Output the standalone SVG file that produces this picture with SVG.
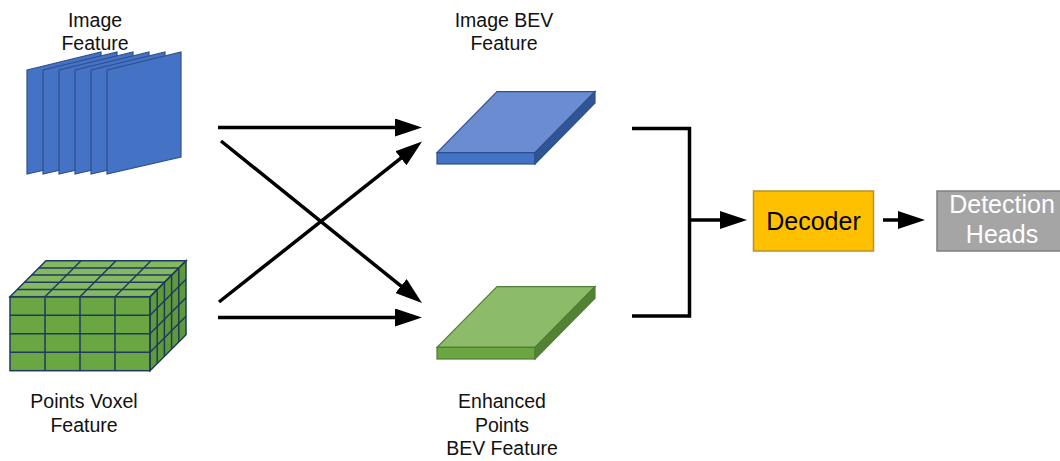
<svg xmlns="http://www.w3.org/2000/svg" width="1060" height="461" viewBox="0 0 1060 461">
<defs>
<style>
.lbl{font-family:"Liberation Sans",Arial,sans-serif;font-size:19.5px;fill:#111;text-anchor:middle}
.big{font-family:"Liberation Sans",Arial,sans-serif;font-size:25px;text-anchor:middle}
.panel{fill:#4472C4;stroke:#2F4F8A;stroke-width:1.2}
.vx{stroke:#1F3A5F;stroke-width:1.5;fill:none}
.conn{stroke:#000;stroke-width:3.5;fill:none}
</style>
<marker id="ah" viewBox="0 0 27 18" refX="17" refY="9" markerWidth="27" markerHeight="18" markerUnits="userSpaceOnUse" orient="auto">
<path d="M0,0 L27,9 L0,18 z" fill="#000"/>
</marker>
</defs>
<rect width="1060" height="461" fill="#fff"/>

<g id="image-feature">
<polygon class="panel" points="27,70 101,52 101,157 27,174"/>
<polygon class="panel" points="43,70 117,52 117,157 43,174"/>
<polygon class="panel" points="59,70 133,52 133,157 59,174"/>
<polygon class="panel" points="75,70 149,52 149,157 75,174"/>
<polygon class="panel" points="91,70 165,52 165,157 91,174"/>
<polygon class="panel" points="107,70 181,52 181,157 107,174"/>
<text class="lbl" x="95" y="27">Image</text>
<text class="lbl" x="95" y="50">Feature</text>
</g>

<g id="points-voxel-feature">
<polygon points="10,296.7 150,296.7 186,260.7 46,260.7" fill="#84B962"/>
<rect x="10" y="296.7" width="140" height="74" fill="#6AA642"/>
<polygon points="150,296.7 186,260.7 186,334.7 150,370.7" fill="#5E9A3A"/>
<g class="vx">
<polygon points="10,296.7 150,296.7 186,260.7 46,260.7"/>
<rect x="10" y="296.7" width="140" height="74"/>
<polygon points="150,296.7 186,260.7 186,334.7 150,370.7"/>
<path d="M45,296.7V370.7M80,296.7V370.7M115,296.7V370.7M10,315.2H150M10,333.7H150M10,352.2H150"/>
<path d="M45,296.7L81,260.7M80,296.7L116,260.7M115,296.7L151,260.7"/>
<path d="M17.2,289.5H157.2M24.4,282.3H164.4M31.6,275.1H171.6M38.8,267.9H178.8"/>
<path d="M157.2,289.5V363.5M164.4,282.3V356.3M171.6,275.1V349.1M178.8,267.9V341.9"/>
<path d="M150,315.2L186,279.2M150,333.7L186,297.7M150,352.2L186,316.2"/>
</g>
<text class="lbl" x="84" y="408">Points Voxel</text>
<text class="lbl" x="84" y="431.5">Feature</text>
</g>

<g id="image-bev-feature">
<polygon points="497,91.7 595,91.7 535,152.7 437,152.7" fill="#6A8CD0" stroke="#2F4F8A" stroke-width="1.2"/>
<rect x="437" y="152.7" width="98" height="11.3" fill="#4472C4" stroke="#2F4F8A" stroke-width="1.2"/>
<polygon points="535,152.7 595,91.7 595,103 535,164" fill="#2F5597" stroke="#2F4F8A" stroke-width="1.2"/>
<text class="lbl" x="504" y="27">Image BEV</text>
<text class="lbl" x="504" y="50">Feature</text>
</g>

<g id="enhanced-points-bev-feature">
<polygon points="497,286.7 595,286.7 535,347.3 437,347.3" fill="#8CBB6A" stroke="#507E32" stroke-width="1.2"/>
<rect x="437" y="347.3" width="98" height="11.7" fill="#6AA642" stroke="#507E32" stroke-width="1.2"/>
<polygon points="535,347.3 595,286.7 595,298.3 535,359" fill="#548235" stroke="#507E32" stroke-width="1.2"/>
<text class="lbl" x="502" y="408">Enhanced</text>
<text class="lbl" x="502" y="431.5">Points</text>
<text class="lbl" x="502" y="455">BEV Feature</text>
</g>

<g id="decoder">
<rect x="753.5" y="191" width="120" height="60" fill="#FFC000" stroke="#B8912A" stroke-width="1.5"/>
<text class="big" x="813.5" y="230" fill="#000">Decoder</text>
</g>

<g id="detection-heads">
<rect x="937" y="191" width="130" height="60" fill="#A5A5A5" stroke="#7F7F7F" stroke-width="1.5"/>
<text class="big" x="1002" y="213.3" fill="#fff">Detection</text>
<text class="big" x="1002" y="243.3" fill="#fff">Heads</text>
</g>

<g id="connectors">
<line class="conn" x1="218" y1="127.5" x2="412" y2="127.5" marker-end="url(#ah)"/>
<line class="conn" x1="221" y1="141" x2="414.2" y2="296.7" marker-end="url(#ah)"/>
<line class="conn" x1="219" y1="302" x2="414.2" y2="147.7" marker-end="url(#ah)"/>
<line class="conn" x1="218" y1="317.5" x2="412" y2="317.5" marker-end="url(#ah)"/>
<path class="conn" d="M632,128.5H689.5V316H632"/>
<line class="conn" x1="689.5" y1="220" x2="737" y2="220" marker-end="url(#ah)"/>
<line class="conn" x1="883" y1="220" x2="915" y2="220" marker-end="url(#ah)"/>
</g>
</svg>
